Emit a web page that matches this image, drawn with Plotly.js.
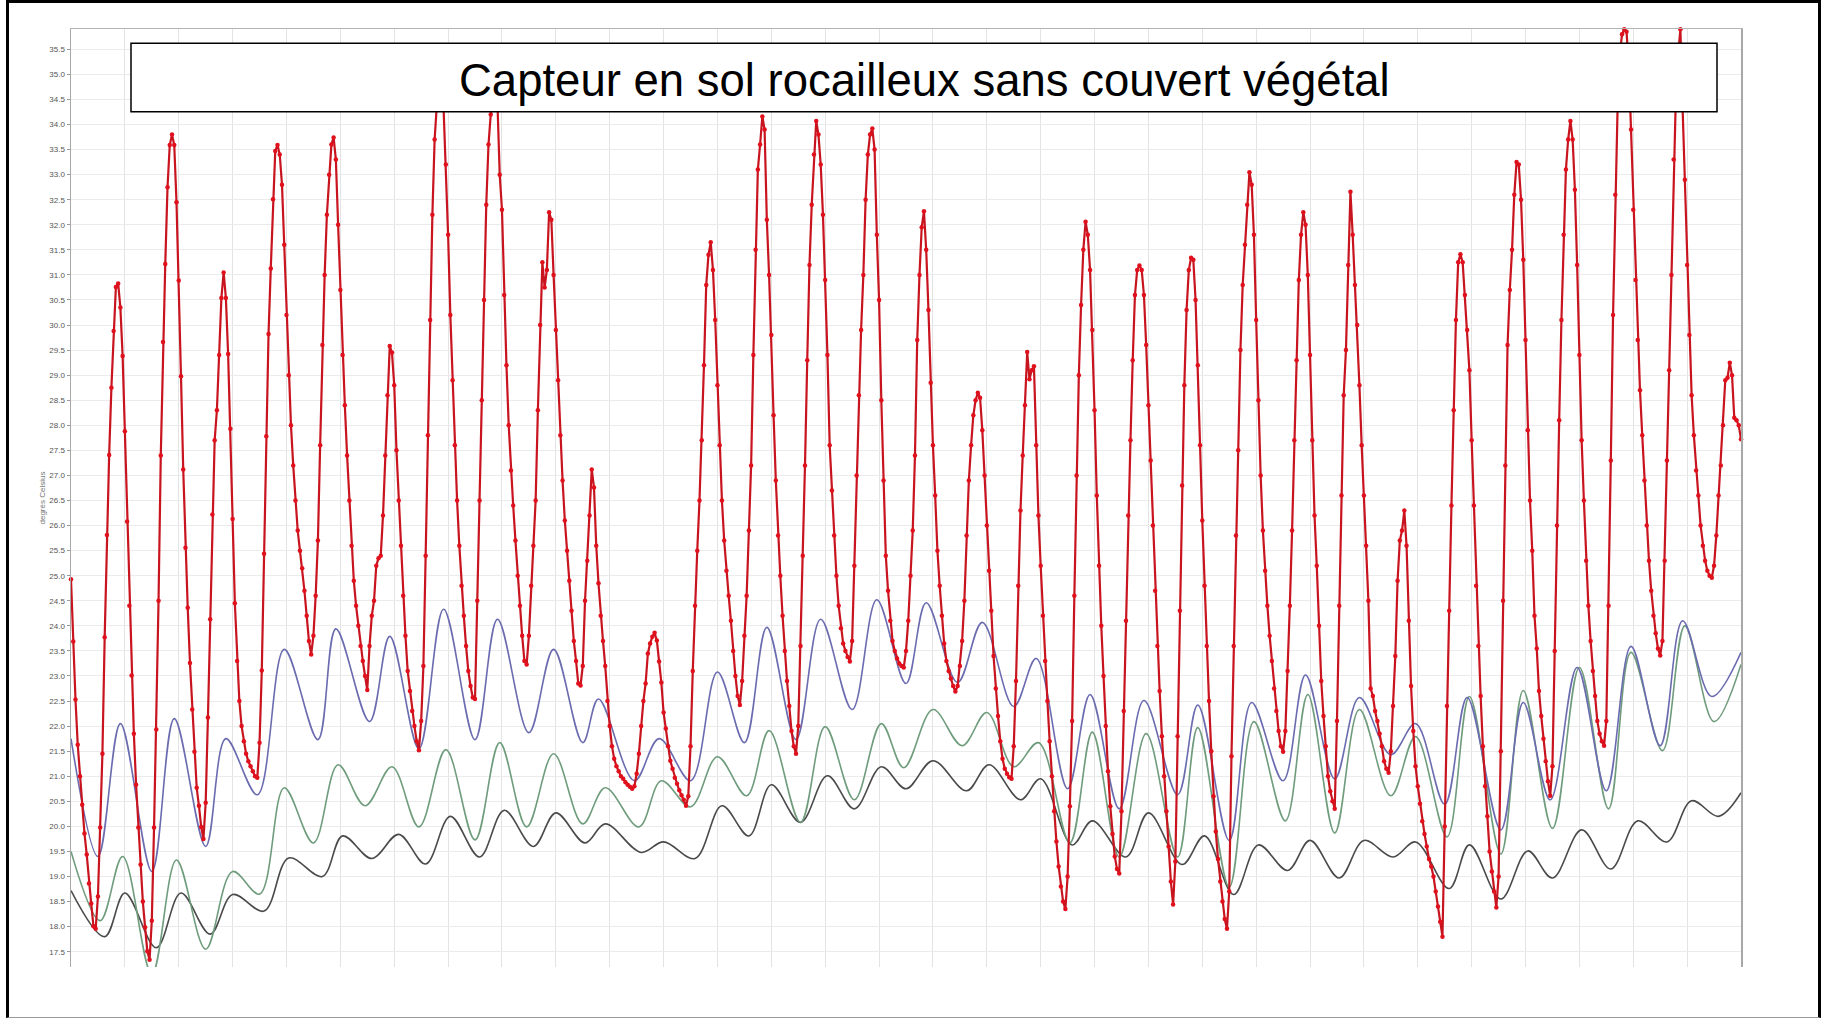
<!DOCTYPE html>
<html>
<head>
<meta charset="utf-8">
<script src="https://cdn.plot.ly/plotly-3.0.1.min.js"></script>
<style>
  html, body { margin:0; padding:0; background:#fff; width:1825px; height:1018px; overflow:hidden; }
  #chart { position:absolute; left:0; top:0; width:1825px; height:1018px; }
  #frame { position:absolute; left:6px; top:0; width:1815px; height:1018px; box-sizing:border-box;
           border:3px solid #000; border-bottom:1px solid #9a9a9a; pointer-events:none; z-index:10; }
</style>
</head>
<body>
<div id="chart"></div>
<div id="frame"></div>
<script>
// ---- Data (hourly readings, hour 0 = left edge of chart) ----
const chartTitle = "Capteur en sol rocailleux sans couvert végétal";
const yAxisTitle = "degrés Celsius";

// Surface sensor (red, hourly, 745 values)
const redTemp = [
  24.93, 23.69, 22.53, 21.63, 21.0, 20.43, 19.86, 19.44, 18.86, 18.46, 18.01, 17.96,
  18.6, 19.98, 21.45, 23.77, 25.81, 27.41, 28.75, 29.88, 30.76, 30.83,
  30.35, 29.38, 27.88, 26.08, 24.4, 23.01, 21.85, 20.83, 19.98, 19.24, 18.5, 17.99, 17.51, 17.34,
  18.12, 19.98, 21.93, 24.5, 27.4, 29.66, 31.22, 32.75, 33.59, 33.8,
  33.59, 32.45, 30.89, 28.98, 27.12, 25.56, 24.36, 23.26, 22.33, 21.49, 20.77, 20.41, 19.99, 19.75,
  20.47, 22.17, 24.13, 26.22, 27.7, 28.3, 29.4, 30.54, 31.05,
  30.54, 29.42, 27.93, 26.13, 24.45, 23.3, 22.5, 22.0, 21.7, 21.45, 21.3, 21.2, 21.1, 21.0, 20.97,
  21.67, 23.11, 25.44, 27.78, 29.82, 31.13, 32.51, 33.47, 33.59,
  33.4, 32.8, 31.6, 30.2, 29.0, 28.0, 27.2, 26.5, 25.9, 25.5, 25.15, 24.7, 24.2, 23.7, 23.43,
  23.8, 24.6, 25.7, 27.6, 29.6, 31.0, 32.2, 33.0, 33.6, 33.74,
  33.3, 32.0, 30.7, 29.4, 28.4, 27.4, 26.5, 25.6, 24.9, 24.4, 24.0, 23.6, 23.3, 23.0, 22.72,
  23.6, 24.2, 24.5, 25.2, 25.35, 25.4, 26.2, 27.4, 28.6, 29.58, 29.45,
  28.8, 27.5, 26.5, 25.6, 24.6, 23.8, 23.1, 22.7, 22.3, 22.0, 21.7, 21.52,
  22.1, 23.2, 25.4, 27.8, 30.1, 32.2, 33.7, 34.4, 34.7, 34.6, 34.3,
  33.2, 31.8, 30.2, 28.9, 27.6, 26.5, 25.6, 24.8, 24.2, 23.6, 23.1, 22.8, 22.57, 22.54,
  24.5, 26.5, 28.5, 30.5, 32.4, 33.6, 34.2, 34.5, 34.6, 34.4,
  33.0, 32.3, 30.6, 29.2, 28.0, 27.1, 26.4, 25.7, 25.0, 24.4, 23.8, 23.3, 23.23,
  23.8, 24.8, 25.6, 26.5, 28.3, 30.0, 31.25, 30.75, 31.1, 32.25, 32.1, 31.0, 29.9, 28.9, 27.8, 26.9, 26.1, 25.5, 24.9, 24.3, 23.7, 23.3, 22.85, 22.81,
  23.2, 24.5, 25.3, 26.2, 27.12,
  26.76, 25.6, 24.85, 24.2, 23.7, 23.2, 22.5, 22.0, 21.6, 21.35, 21.2, 21.1, 21.0, 20.95, 20.88, 20.83, 20.79, 20.75,
  20.8, 21.05, 21.45, 22.0, 22.5, 22.85, 23.45, 23.65, 23.78, 23.86,
  23.71, 23.29, 22.87, 22.27, 21.95, 21.6, 21.31, 21.15, 20.97, 20.85, 20.72, 20.62, 20.53, 20.41,
  20.6, 21.6, 23.1, 24.4, 25.5, 26.5, 27.7, 29.2, 30.8, 31.4, 31.65,
  31.1, 30.1, 28.8, 27.6, 26.5, 25.7, 25.1, 24.6, 24.1, 23.5, 23.0, 22.6, 22.42,
  22.9, 23.8, 24.6, 25.9, 27.2, 29.4, 31.5, 33.1, 33.6, 34.16,
  33.9, 32.1, 31.0, 29.8, 28.2, 26.9, 25.8, 25.0, 24.2, 23.5, 22.9, 22.4, 21.9, 21.6, 21.45,
  22.0, 23.6, 25.4, 27.2, 29.3, 31.2, 32.4, 33.4, 34.07,
  33.8, 33.2, 32.2, 30.9, 29.4, 27.6, 26.7, 25.8, 25.0, 24.4, 23.95, 23.65, 23.5, 23.38, 23.29,
  23.7, 25.2, 27.0, 28.6, 29.9, 31.0, 32.5, 33.4, 33.8, 33.92,
  33.5, 31.8, 30.5, 28.5, 26.9, 25.4, 24.7, 24.1, 23.7, 23.5, 23.35, 23.25, 23.2, 23.17,
  23.5, 24.1, 25.0, 25.9, 27.4, 29.7, 31.0, 31.95, 32.27, 31.5, 30.3, 28.85, 27.6, 26.6, 25.5, 24.8, 24.2, 23.65, 23.3, 23.1, 22.95, 22.8, 22.69,
  22.8, 23.2, 23.7, 24.5, 25.8, 26.9, 27.6, 28.2, 28.5, 28.65, 28.55, 27.9, 27.0, 26.0, 25.1, 24.3, 23.4, 22.75, 22.2, 21.7, 21.35, 21.15, 21.05, 20.98, 20.95,
  21.6, 22.9, 24.8, 26.3, 27.4, 28.4, 29.46, 28.92, 29.1, 29.18, 27.6, 26.2, 25.2, 24.2, 23.3, 22.5, 21.7, 21.0, 20.3, 19.7, 19.2, 18.8, 18.5, 18.35,
  19.0, 20.4, 22.1, 24.6, 27.0, 29.0, 30.4, 31.5, 32.06,
  31.8, 31.1, 29.9, 28.3, 26.6, 25.2, 24.0, 23.0, 22.0, 21.1, 20.4, 19.85, 19.4, 19.15, 19.06,
  20.3, 22.3, 24.1, 26.2, 27.7, 29.3, 30.6, 31.1, 31.19,
  31.1, 30.6, 29.6, 28.4, 27.3, 26.0, 24.7, 23.6, 22.7, 21.8, 21.0, 20.3, 19.6, 18.9, 18.44,
  19.3, 21.8, 24.3, 26.8, 28.8, 30.3, 31.1, 31.34, 31.3,
  30.5, 29.2, 27.6, 26.1, 24.8, 23.6, 22.5, 21.5, 20.6, 19.9, 19.35, 18.9, 18.5, 18.15, 17.96,
  18.7, 21.4, 23.6, 25.8, 27.5, 29.5, 30.8, 31.6, 32.4, 33.05,
  32.8, 31.8, 30.1, 28.5, 27.0, 25.9, 25.1, 24.4, 23.8, 23.3, 22.75, 22.3, 21.9, 21.6, 21.49,
  21.9, 23.1, 24.4, 25.9, 27.7, 29.3, 30.9, 31.8, 32.25,
  32.0, 31.0, 29.4, 27.7, 26.2, 25.2, 24.0, 22.9, 22.2, 21.6, 21.0, 20.7, 20.5, 20.35,
  22.1, 24.4, 26.6, 28.6, 29.5, 31.2, 32.66,
  31.8, 30.8, 30.0, 28.8, 27.6, 26.6, 25.6, 24.5, 22.75, 22.6, 22.3, 22.1, 21.85, 21.6, 21.3, 21.15, 21.07,
  21.5, 22.4, 23.4, 24.9, 25.7, 25.9, 26.3,
  25.6, 24.1, 22.8, 21.9, 21.2, 20.8, 20.45, 20.1, 19.85, 19.6, 19.35, 19.2, 19.0, 18.7, 18.4, 18.1, 17.8,
  20.0, 22.4, 24.3, 26.4, 28.3, 30.1, 31.25, 31.41,
  31.25, 30.6, 29.9, 29.1, 27.7, 26.4, 24.8, 23.6, 22.6, 21.6, 20.8, 20.2, 19.5, 19.1, 18.7, 18.38,
  19.0, 21.5, 24.5, 27.2, 29.6, 30.7, 31.5, 32.6, 33.25,
  33.2, 32.5, 31.3, 29.7, 27.9, 26.5, 25.5, 24.2, 23.55, 22.7, 22.2, 21.75, 21.3, 20.9, 20.61,
  21.2, 23.5, 26.0, 28.1, 30.1, 31.8, 33.1, 33.7, 34.07,
  33.7, 32.7, 31.2, 29.4, 27.7, 26.5, 25.3, 24.4, 23.7, 23.1, 22.6, 22.1, 21.85, 21.7, 21.61,
  22.1, 24.4, 27.3, 30.2, 32.6, 34.3, 35.4, 35.8, 35.9, 35.85,
  35.2, 33.9, 32.3, 30.9, 29.7, 28.7, 27.8, 26.9, 26.0, 25.3, 24.7, 24.2, 23.85, 23.55, 23.41,
  23.7, 25.3, 27.3, 29.1, 31.0, 33.3, 34.6, 35.4, 35.9,
  34.3, 32.9, 31.2, 29.8, 28.6, 27.8, 27.1, 26.6, 26.0, 25.6, 25.3, 25.1, 25.0, 24.96,
  25.2, 25.8, 26.6, 27.2, 28.0, 28.9, 28.95, 29.25, 29.0, 28.15, 28.1, 28.0, 27.72
];

// Smooth sensors: readings at their daily turning points (hour, degrees)
const blueHours = [0,12,22,36,46,60,69,83,95,110,118,133,142,155,166,180,190,204,215,228,235,251,262,276,288,300,310,323,334,348,359,372,381,395,406,420,430,444,454,467,478,493,502,516,526,540,550,563,574,588,599,612,622,637,647,659,671,684,695,708,718,731,744];
const blueTemp  = [21.75,19.4,22.05,19.1,22.15,19.6,21.75,20.63,23.53,21.73,23.94,22.09,23.79,21.55,24.33,21.73,24.13,21.87,23.53,21.67,22.54,20.91,21.75,20.91,23.08,21.67,23.97,21.73,24.13,22.33,24.52,22.85,24.46,22.87,24.07,22.39,23.35,20.75,22.63,20.35,22.51,20.63,22.42,19.72,22.47,20.91,23.02,20.95,22.57,21.43,22.05,20.44,22.57,19.93,22.47,20.53,23.17,20.71,23.59,21.61,24.1,22.59,23.47];

const greenHours = [0,13,23,36,47,60,72,84,95,108,119,131,143,155,167,180,191,203,215,228,238,253,263,276,288,301,311,325,336,349,361,371,384,397,408,420,431,445,455,467,479,493,502,516,527,541,551,563,574,588,599,613,623,637,647,660,672,685,695,709,719,732,744];
const greenTemp  = [19.5,18.12,19.4,17.05,19.33,17.55,19.1,18.65,20.77,19.67,21.23,20.41,21.19,19.99,21.53,19.73,21.67,19.99,21.45,20.05,20.77,19.99,20.91,20.39,21.39,20.61,21.91,20.08,21.99,20.53,22.05,21.17,22.33,21.61,22.27,21.19,21.67,19.67,21.88,19.39,21.85,19.39,21.97,18.79,22.09,20.11,22.63,19.87,22.33,20.61,21.79,19.79,22.59,19.45,22.71,19.96,23.17,20.35,23.47,21.51,24.0,22.09,23.23];

const blackHours = [0,15,24,38,49,62,72,86,97,112,121,134,146,158,169,182,193,206,216,229,238,254,264,278,290,302,312,325,337,349,361,372,384,399,409,423,432,446,455,470,480,495,505,518,529,542,552,565,576,589,599,614,623,637,649,660,673,686,698,711,722,734,744];
const blackTemp  = [18.72,17.8,18.67,17.58,18.67,17.85,18.64,18.31,19.37,19.0,19.81,19.36,19.84,19.25,20.2,19.39,20.32,19.6,20.27,19.67,20.05,19.48,19.69,19.36,20.41,19.81,20.83,20.08,21.01,20.35,21.19,20.75,21.31,20.71,21.23,20.53,20.95,19.63,20.11,19.39,20.27,19.24,19.81,18.64,19.63,19.12,19.72,18.97,19.72,19.39,19.69,18.76,19.63,18.55,19.51,18.97,19.93,19.15,20.11,19.69,20.51,20.2,20.67];

// ---- Chart ----
const redHours = redTemp.map((v, i) => i);
const FONT = "Liberation Sans, Arial, sans-serif";

const traces = [
  { x: blackHours, y: blackTemp, type: "scatter", mode: "lines",
    line: { color: "#4a4a4a", width: 1.6, shape: "spline", smoothing: 1 }, hoverinfo: "skip" },
  { x: greenHours, y: greenTemp, type: "scatter", mode: "lines",
    line: { color: "#6f9c7c", width: 1.6, shape: "spline", smoothing: 1 }, hoverinfo: "skip" },
  { x: blueHours, y: blueTemp, type: "scatter", mode: "lines",
    line: { color: "#6b6bb0", width: 1.6, shape: "spline", smoothing: 1 }, hoverinfo: "skip" },
  { x: redHours, y: redTemp, type: "scatter", mode: "lines+markers", cliponaxis: false,
    line: { color: "#c8141e", width: 2.2 },
    marker: { color: "#e0101c", size: 4.5, line: { width: 0 } }, hoverinfo: "skip" }
];

const layout = {
  width: 1825, height: 1018,
  margin: { l: 71, r: 84, t: 29, b: 51, pad: 0 },
  paper_bgcolor: "#ffffff", plot_bgcolor: "#ffffff",
  showlegend: false,
  font: { family: FONT },
  xaxis: {
    range: [0, 744], tick0: 0, dtick: 24, side: "top",
    showgrid: true, gridcolor: "#e3e3e3", gridwidth: 1,
    zeroline: false, showticklabels: false, ticks: "",
    showline: true, linecolor: "#b4b4b4", linewidth: 1.5
  },
  yaxis: {
    range: [17.195, 35.905], tick0: 17.5, dtick: 0.5, tickformat: ".1f",
    showgrid: true, gridcolor: "#ebebeb", gridwidth: 1,
    zeroline: false, ticks: "outside", ticklen: 3, tickcolor: "#9a9a9a", tickwidth: 1,
    tickfont: { family: FONT, size: 8, color: "#555555" },
    showline: true, mirror: true, linecolor: "#a8a8a8", linewidth: 1.5,
    title: { text: yAxisTitle, font: { family: FONT, size: 8, color: "#777777" }, standoff: 2 }
  },
  shapes: [
    { type: "rect", xref: "paper", yref: "paper", layer: "above",
      x0: 0.03593, x1: 0.98563, y0: 0.91183, y1: 0.98475,
      fillcolor: "#ffffff", line: { color: "#000000", width: 1.5 } }
  ],
  annotations: [
    { xref: "paper", yref: "paper", x: 0.5108, y: 0.9451, xanchor: "center", yanchor: "middle",
      text: chartTitle, showarrow: false,
      font: { family: FONT, size: 45.5, color: "#000000" } }
  ]
};

Plotly.newPlot("chart", traces, layout, { staticPlot: true, displayModeBar: false });
</script>
</body>
</html>
